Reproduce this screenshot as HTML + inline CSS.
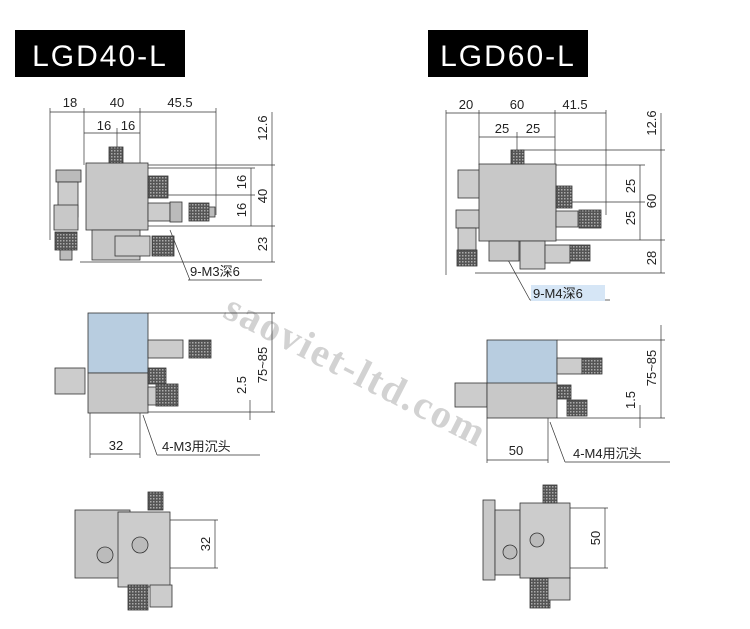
<!DOCTYPE html>
<html><head><meta charset="utf-8"><style>
html,body{margin:0;padding:0;background:#fff;width:750px;height:629px;overflow:hidden}
svg{display:block}
text{font-family:"Liberation Sans","Noto Sans CJK SC",sans-serif;fill:#222}
</style></head><body>
<svg width="750" height="629" viewBox="0 0 750 629" xmlns="http://www.w3.org/2000/svg">
<defs>
<pattern id="kn" width="3" height="3" patternUnits="userSpaceOnUse"><rect width="3" height="3" fill="#555"/><rect width="1.5" height="1.5" fill="#aaa"/></pattern>
</defs>
<rect x="15" y="30" width="170" height="47" fill="#000"/>
<text x="100" y="66" font-size="30" text-anchor="middle" style="fill:#fff;letter-spacing:2px">LGD40-L</text>
<rect x="428" y="30" width="160" height="47" fill="#000"/>
<text x="508" y="66" font-size="30" text-anchor="middle" style="fill:#fff;letter-spacing:2px">LGD60-L</text>

<text transform="translate(350,382) rotate(27)" text-anchor="middle" font-size="40" font-weight="bold" style="fill:#d2d2d2;letter-spacing:2px;font-family:'Liberation Serif',serif">saoviet-ltd.com</text>

<g stroke="#333" stroke-width="0.7" fill="none">
<line x1="50" y1="112" x2="216" y2="112"/>
<line x1="50" y1="108" x2="50" y2="240"/><line x1="84" y1="108" x2="84" y2="165"/><line x1="140" y1="108" x2="140" y2="165"/><line x1="216" y1="108" x2="216" y2="215"/>
<line x1="84" y1="133" x2="140" y2="133"/><line x1="117" y1="128" x2="117" y2="250"/>
<line x1="125" y1="165" x2="275" y2="165"/><line x1="148" y1="168" x2="255" y2="168"/><line x1="148" y1="195" x2="255" y2="195"/><line x1="148" y1="226" x2="275" y2="226"/><line x1="80" y1="262" x2="275" y2="262"/>
<line x1="251" y1="168" x2="251" y2="226"/><line x1="272" y1="112" x2="272" y2="262"/>
<line x1="188" y1="280" x2="262" y2="280"/>
<line x1="446" y1="113" x2="606" y2="113"/>
<line x1="446" y1="110" x2="446" y2="275"/><line x1="479" y1="110" x2="479" y2="165"/><line x1="555" y1="110" x2="555" y2="165"/><line x1="606" y1="110" x2="606" y2="215"/>
<line x1="479" y1="137" x2="555" y2="137"/><line x1="517" y1="132" x2="517" y2="255"/>
<line x1="520" y1="150" x2="665" y2="150"/><line x1="555" y1="165" x2="645" y2="165"/><line x1="555" y1="202" x2="645" y2="202"/><line x1="555" y1="240" x2="665" y2="240"/><line x1="475" y1="273" x2="665" y2="273"/>
<line x1="640" y1="165" x2="640" y2="240"/><line x1="661" y1="113" x2="661" y2="273"/>
<line x1="497" y1="240" x2="530" y2="300"/><line x1="530" y1="300" x2="610" y2="300"/>
<line x1="170" y1="230" x2="190" y2="280"/>
<line x1="148" y1="313" x2="275" y2="313"/><line x1="148" y1="412" x2="275" y2="412"/>
<line x1="272" y1="313" x2="272" y2="412"/><line x1="250" y1="400" x2="250" y2="420"/>
<line x1="90" y1="412" x2="90" y2="458"/><line x1="140" y1="412" x2="140" y2="458"/><line x1="90" y1="454" x2="140" y2="454"/>
<line x1="143" y1="415" x2="157" y2="455"/><line x1="157" y1="455" x2="260" y2="455"/>
<line x1="557" y1="340" x2="665" y2="340"/><line x1="557" y1="418" x2="665" y2="418"/>
<line x1="661" y1="325" x2="661" y2="418"/><line x1="640" y1="405" x2="640" y2="428"/>
<line x1="487" y1="418" x2="487" y2="463"/><line x1="548" y1="418" x2="548" y2="463"/><line x1="487" y1="460" x2="548" y2="460"/>
<line x1="550" y1="422" x2="565" y2="462"/><line x1="565" y1="462" x2="670" y2="462"/>
<line x1="170" y1="520" x2="218" y2="520"/><line x1="170" y1="568" x2="218" y2="568"/><line x1="215" y1="520" x2="215" y2="568"/>
<line x1="570" y1="508" x2="608" y2="508"/><line x1="570" y1="568" x2="608" y2="568"/><line x1="605" y1="508" x2="605" y2="568"/>
</g>

<g font-size="13">
<text x="70" y="107" text-anchor="middle">18</text><text x="117" y="107" text-anchor="middle">40</text><text x="180" y="107" text-anchor="middle">45.5</text>
<text x="104" y="130" text-anchor="middle">16</text><text x="128" y="130" text-anchor="middle">16</text>
<text transform="translate(267,128) rotate(-90)" text-anchor="middle">12.6</text>
<text transform="translate(246,182) rotate(-90)" text-anchor="middle">16</text>
<text transform="translate(246,210) rotate(-90)" text-anchor="middle">16</text>
<text transform="translate(267,196) rotate(-90)" text-anchor="middle">40</text>
<text transform="translate(267,244) rotate(-90)" text-anchor="middle">23</text>
<text x="190" y="276">9-M3深6</text>
<text x="466" y="109" text-anchor="middle">20</text><text x="517" y="109" text-anchor="middle">60</text><text x="575" y="109" text-anchor="middle">41.5</text>
<text x="502" y="133" text-anchor="middle">25</text><text x="533" y="133" text-anchor="middle">25</text>
<text transform="translate(656,123) rotate(-90)" text-anchor="middle">12.6</text>
<text transform="translate(635,186) rotate(-90)" text-anchor="middle">25</text>
<text transform="translate(635,218) rotate(-90)" text-anchor="middle">25</text>
<text transform="translate(656,201) rotate(-90)" text-anchor="middle">60</text>
<text transform="translate(656,258) rotate(-90)" text-anchor="middle">28</text>
<rect x="531" y="285" width="74" height="16" fill="#d6e6f6"/>
<text x="533" y="298">9-M4深6</text>
<text transform="translate(267,365) rotate(-90)" text-anchor="middle">75~85</text>
<text transform="translate(246,385) rotate(-90)" text-anchor="middle">2.5</text>
<text x="116" y="450" text-anchor="middle">32</text><text x="162" y="451">4-M3用沉头</text>
<text transform="translate(656,368) rotate(-90)" text-anchor="middle">75~85</text>
<text transform="translate(635,400) rotate(-90)" text-anchor="middle">1.5</text>
<text x="516" y="455" text-anchor="middle">50</text><text x="573" y="458">4-M4用沉头</text>
<text transform="translate(210,544) rotate(-90)" text-anchor="middle">32</text>
<text transform="translate(600,538) rotate(-90)" text-anchor="middle">50</text>
</g>

<g stroke="#333" stroke-width="0.8">
<rect x="56" y="170" width="25" height="12" fill="#bbb"/>
<rect x="58" y="182" width="20" height="35" fill="#ccc"/>
<rect x="54" y="205" width="24" height="25" fill="#c8c8c8"/>
<rect x="55" y="232" width="22" height="18" fill="url(#kn)"/>
<rect x="60" y="250" width="12" height="10" fill="#bbb"/>
<rect x="86" y="163" width="62" height="67" fill="#c8c8c8"/>
<rect x="109" y="147" width="14" height="16" fill="url(#kn)"/>
<rect x="148" y="176" width="20" height="22" fill="url(#kn)"/>
<rect x="148" y="203" width="22" height="18" fill="#ccc"/>
<rect x="170" y="202" width="12" height="20" fill="#bbb"/>
<rect x="189" y="203" width="20" height="18" fill="url(#kn)"/>
<rect x="209" y="207" width="6" height="10" fill="#bbb"/>
<rect x="92" y="230" width="48" height="30" fill="#c8c8c8"/>
<rect x="115" y="236" width="35" height="20" fill="#ccc"/>
<rect x="152" y="236" width="22" height="20" fill="url(#kn)"/>
<rect x="458" y="170" width="25" height="28" fill="#ccc"/>
<rect x="456" y="210" width="24" height="18" fill="#ccc"/>
<rect x="458" y="228" width="18" height="22" fill="#ccc"/>
<rect x="457" y="250" width="20" height="16" fill="url(#kn)"/>
<rect x="479" y="164" width="77" height="77" fill="#c8c8c8"/>
<rect x="511" y="150" width="13" height="14" fill="url(#kn)"/>
<rect x="556" y="186" width="16" height="22" fill="url(#kn)"/>
<rect x="556" y="211" width="22" height="16" fill="#ccc"/>
<rect x="579" y="210" width="22" height="18" fill="url(#kn)"/>
<rect x="489" y="241" width="30" height="20" fill="#c8c8c8"/>
<rect x="520" y="241" width="25" height="28" fill="#ccc"/>
<rect x="545" y="245" width="25" height="18" fill="#ccc"/>
<rect x="570" y="245" width="20" height="16" fill="url(#kn)"/>
<rect x="88" y="313" width="60" height="60" fill="#b8cde0"/>
<rect x="148" y="340" width="35" height="18" fill="#ccc"/>
<rect x="189" y="340" width="22" height="18" fill="url(#kn)"/>
<rect x="55" y="368" width="30" height="26" fill="#ccc"/>
<rect x="88" y="373" width="60" height="40" fill="#c8c8c8"/>
<rect x="148" y="368" width="18" height="16" fill="url(#kn)"/>
<rect x="148" y="387" width="12" height="18" fill="#ccc"/>
<rect x="156" y="384" width="22" height="22" fill="url(#kn)"/>
<rect x="487" y="340" width="70" height="45" fill="#b8cde0"/>
<rect x="557" y="358" width="25" height="16" fill="#ccc"/>
<rect x="582" y="358" width="20" height="16" fill="url(#kn)"/>
<rect x="455" y="383" width="32" height="24" fill="#ccc"/>
<rect x="487" y="383" width="70" height="35" fill="#c8c8c8"/>
<rect x="557" y="385" width="14" height="14" fill="url(#kn)"/>
<rect x="567" y="400" width="20" height="16" fill="url(#kn)"/>
<rect x="75" y="510" width="55" height="68" fill="#c8c8c8"/>
<rect x="118" y="512" width="52" height="75" fill="#ccc"/>
<rect x="148" y="492" width="15" height="18" fill="url(#kn)"/>
<rect x="128" y="585" width="20" height="25" fill="url(#kn)"/>
<rect x="150" y="585" width="22" height="22" fill="#ccc"/>
<circle cx="105" cy="555" r="8" fill="#bbb"/><circle cx="140" cy="545" r="8" fill="#bbb"/>
<rect x="483" y="500" width="12" height="80" fill="#c8c8c8"/>
<rect x="495" y="510" width="25" height="65" fill="#c8c8c8"/>
<rect x="520" y="503" width="50" height="75" fill="#ccc"/>
<rect x="543" y="485" width="14" height="18" fill="url(#kn)"/>
<rect x="530" y="578" width="20" height="30" fill="url(#kn)"/>
<rect x="548" y="578" width="22" height="22" fill="#ccc"/>
<circle cx="510" cy="552" r="7" fill="#bbb"/><circle cx="537" cy="540" r="7" fill="#bbb"/>
</g>
</svg>
</body></html>
